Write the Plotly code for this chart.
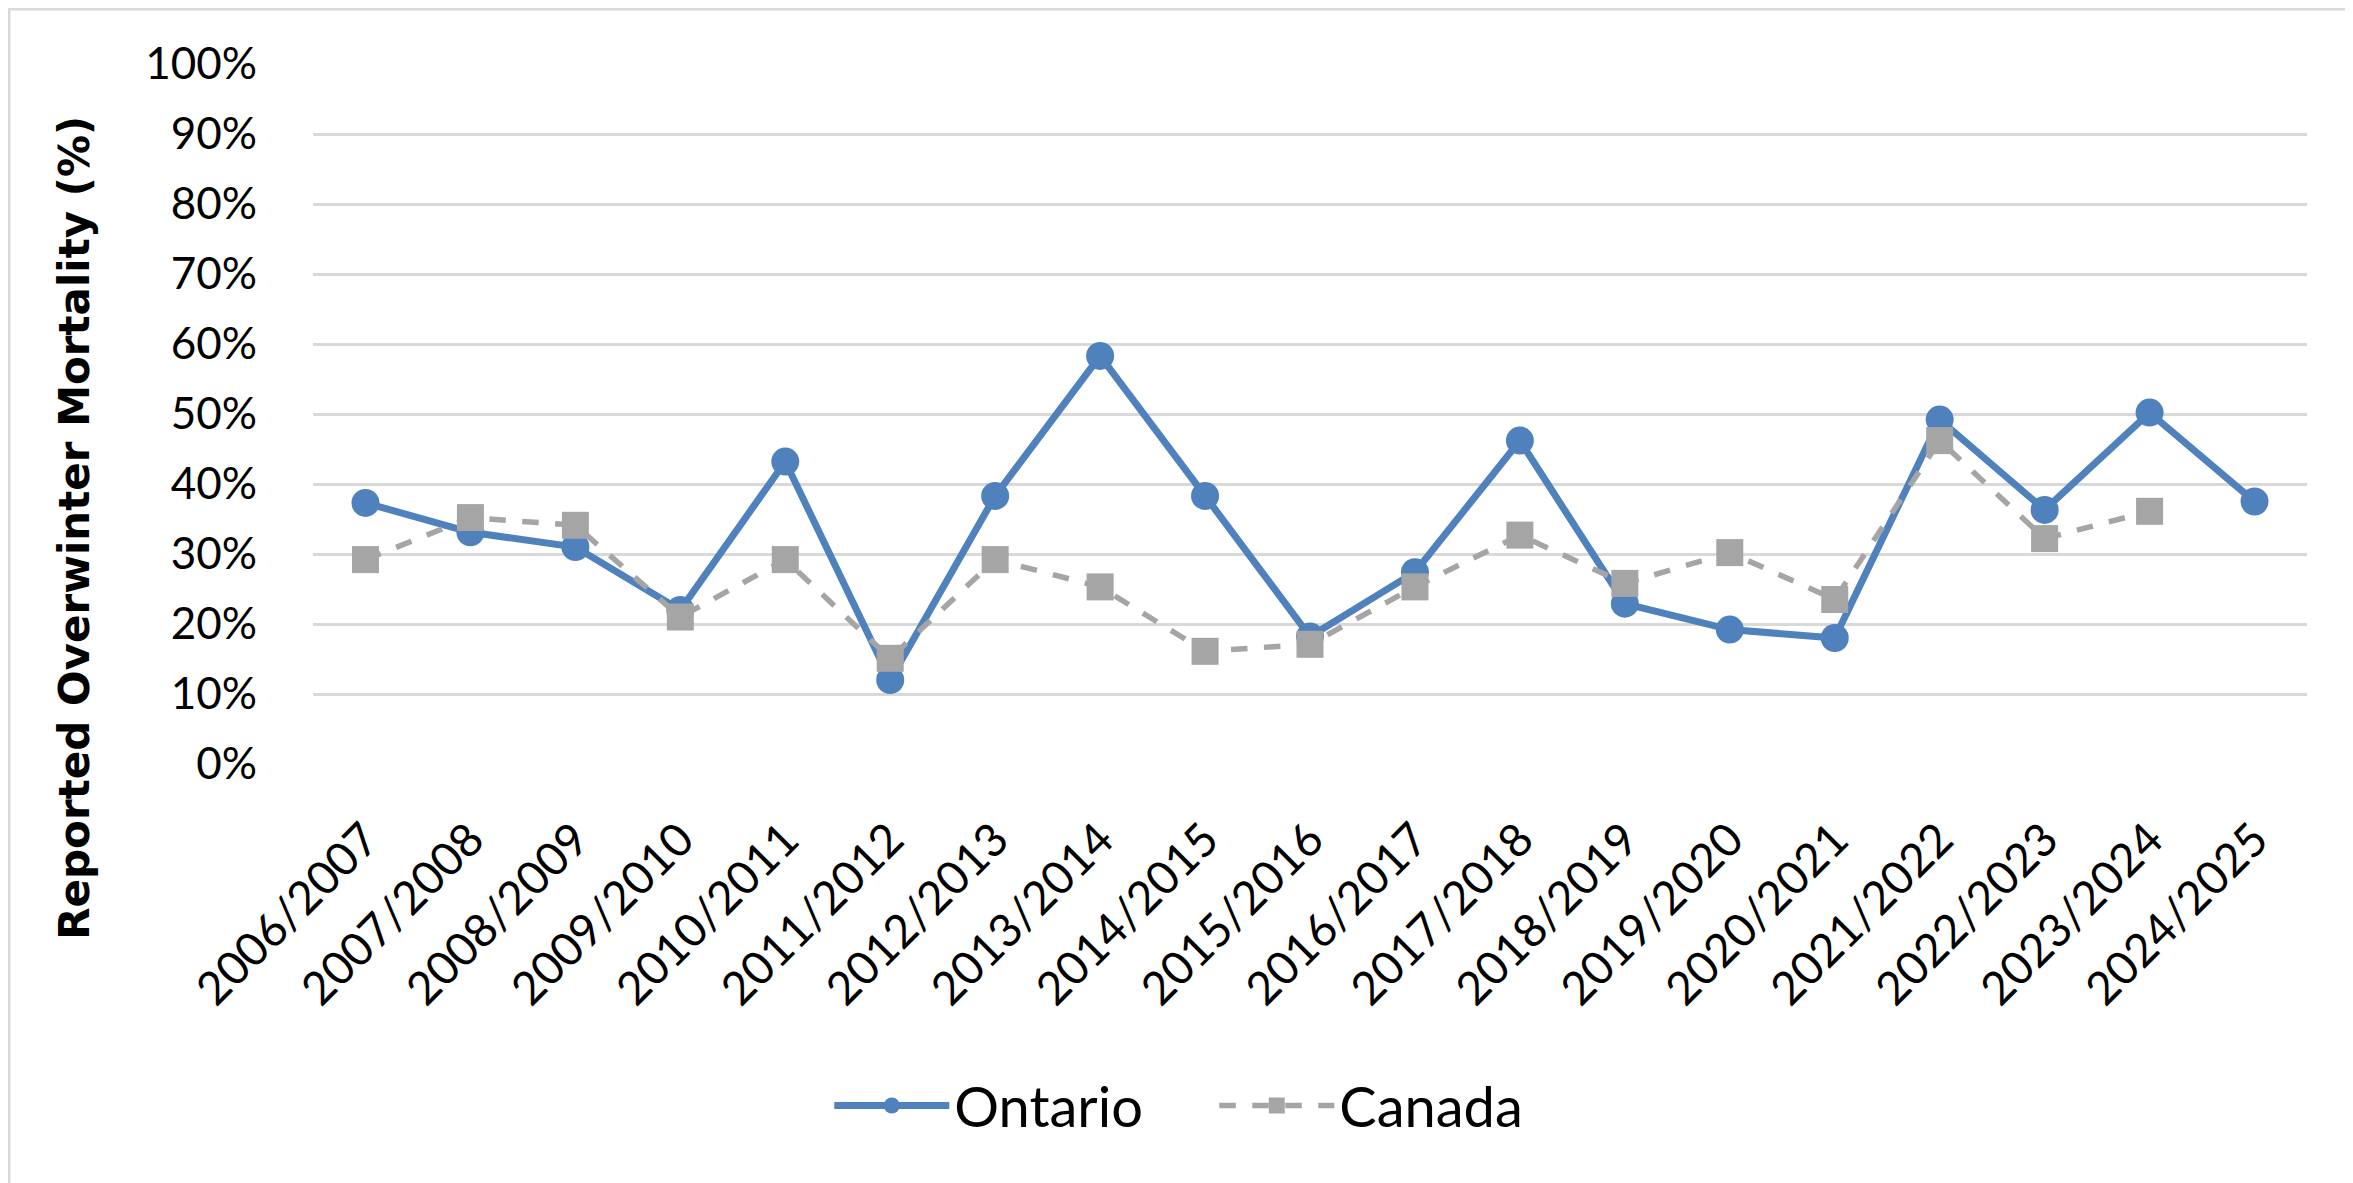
import plotly.graph_objects as go

seasons = ["2006/2007", "2007/2008", "2008/2009", "2009/2010", "2010/2011", "2011/2012",
           "2012/2013", "2013/2014", "2014/2015", "2015/2016", "2016/2017", "2017/2018",
           "2018/2019", "2019/2020", "2020/2021", "2021/2022", "2022/2023", "2023/2024",
           "2024/2025"]
ontario = [37.3, 33.1, 31.0, 22.0, 43.2, 12.0, 38.3, 58.3, 38.3, 18.2, 27.4, 46.2,
           22.9, 19.2, 18.0, 49.2, 36.3, 50.2, 37.5]
canada = [29.2, 35.2, 34.1, 21.0, 29.2, 15.1, 29.2, 25.3, 16.1, 17.1, 25.3, 32.7,
          25.8, 30.2, 23.5, 46.2, 32.2, 36.1, None]
y_ticks = list(range(0, 101, 10))
y_labels = [f"{v}%" for v in y_ticks]

fig = go.Figure()
fig.add_trace(go.Scatter(
    x=seasons, y=ontario, name="Ontario", mode="lines+markers",
    line=dict(color="#4f81bd", width=7),
    marker=dict(symbol="circle", size=28, color="#4f81bd"),
))
fig.add_trace(go.Scatter(
    x=seasons, y=canada, name="Canada", mode="lines+markers",
    line=dict(color="#a5a5a5", width=5.5, dash="dash"),
    marker=dict(symbol="square", size=27, color="#a5a5a5"),
))

fig.update_layout(
    width=2353, height=1183,
    margin=dict(l=305, r=54, t=56, b=427),
    paper_bgcolor="white", plot_bgcolor="white",
    font=dict(family="Lato", color="#000000", size=44),
    showlegend=True,
    legend=dict(orientation="h", x=0.452, xanchor="center", y=-0.488, yanchor="middle",
                font=dict(size=56, family="Lato"), itemwidth=115, tracegroupgap=0,
                entrywidth=255, entrywidthmode="pixels"),
    xaxis=dict(type="category", range=[-0.5, 18.5], tickangle=-45, showgrid=False,
               zeroline=False, showline=False, ticks="",
               tickfont=dict(size=46, family="Lato"), ticklabelstandoff=38),
    yaxis=dict(range=[0, 100], tickmode="array", tickvals=y_ticks, ticktext=y_labels,
               showgrid=True, gridcolor="#d9d9d9", gridwidth=3, zeroline=False,
               showline=False, tickfont=dict(size=44, family="Lato"),
               ticklabelstandoff=55),
    annotations=[dict(
        text="<b>Reported Overwinter Mortality (%)</b>", textangle=-90,
        xref="paper", yref="paper", x=-0.12, y=0.337, xanchor="center", yanchor="middle",
        showarrow=False, font=dict(family="DejaVu Sans", size=42, color="#000000"),
    )],
    shapes=[dict(type="rect", xref="paper", yref="paper", x0=-305/1994, x1=1+54/1994,
                 y0=-427/700.3, y1=1+56/700.3, line=dict(color="#d9d9d9", width=5),
                 layer="below")],
)

fig.write_html("out.html")
